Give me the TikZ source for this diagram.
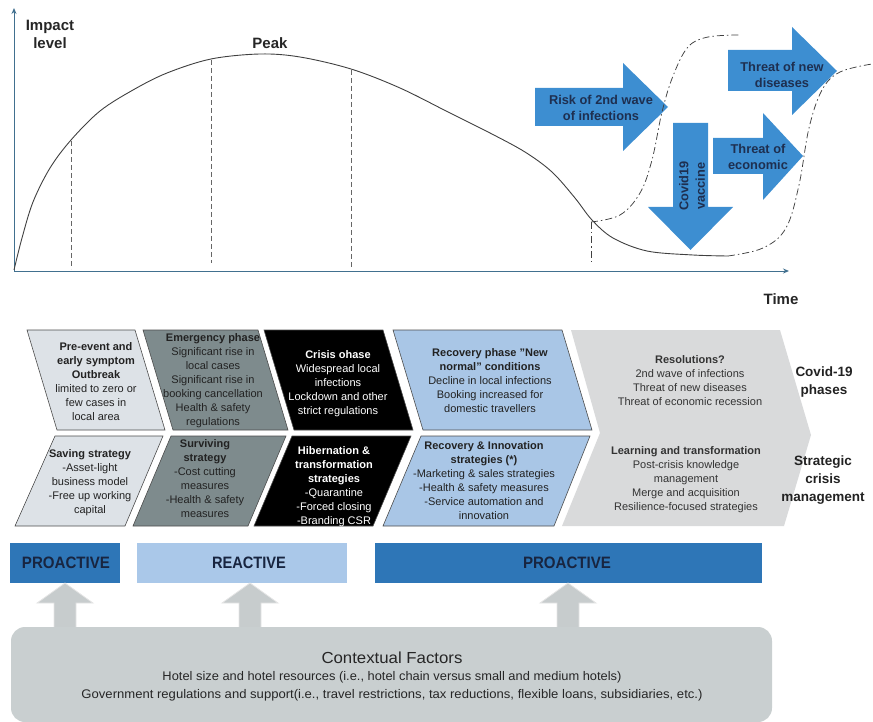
\documentclass[tikz,border=0pt]{standalone}
\usepackage{fontspec}
\setmainfont{Liberation Sans}
\usepackage{graphicx}
\usetikzlibrary{arrows.meta}
\newcommand{\fitw}[2]{\resizebox{#1}{\height}{#2}}
\definecolor{axisc}{HTML}{41708F}
\definecolor{cOne}{HTML}{DDE2E7}
\definecolor{cTwo}{HTML}{7E8B8D}
\definecolor{cFour}{HTML}{A9C6E6}
\definecolor{cFive}{HTML}{D9DADB}
\definecolor{bandDark}{HTML}{2E76B7}
\definecolor{bandLight}{HTML}{AAC8E9}
\definecolor{arrBlue}{HTML}{3D8ED1}
\definecolor{navy}{HTML}{1E2F50}
\definecolor{ctxFill}{HTML}{C9CFD0}
\definecolor{upFill}{HTML}{C7CCCD}
\definecolor{txtDark}{HTML}{222222}
\begin{document}
\begin{tikzpicture}[x=1pt,y=-1pt,
  boxtxt/.style={align=center,inner sep=0pt,text=txtDark,font=\fontsize{11}{14}\selectfont},
  sidetxt/.style={align=center,inner sep=0pt,text=txtDark,font=\bfseries\fontsize{13.5}{18}\selectfont},
  bigtxt/.style={align=center,inner sep=0pt,text=black!85,font=\bfseries\fontsize{15}{18}\selectfont},
  arrtxt/.style={align=center,inner sep=0pt,text=navy,font=\bfseries\fontsize{12.8}{16.5}\selectfont},
  blockarrow/.style={fill=arrBlue,draw=none},
  chev/.style={draw=black!70,line width=0.6pt},
  bandtxt/.style={inner sep=0pt,text=navy!80!black,font=\bfseries\fontsize{16.5}{20}\selectfont},
  uparrow/.style={fill=upFill,draw=white!80!gray,line width=0.8pt},
  ddash/.style={draw=black!60,dashed,dash pattern=on 5pt off 3pt,line width=0.7pt},
  dashdot/.style={draw=black!75,line width=0.75pt,dash pattern=on 7pt off 3pt on 1.5pt off 3pt}
]
\useasboundingbox (0,0) rectangle (873,722);

% ---------------- top chart ----------------
\coordinate (origin) at (14,271);
\coordinate (ytop) at (14,8);
\coordinate (xend) at (789,271);
\draw[axisc,line width=1pt,-{Stealth[length=6pt,width=5pt]}] (origin) -- (ytop);
\draw[axisc,line width=1pt,-{Stealth[length=6pt,width=5pt]}] (origin) -- (xend);

\node[bigtxt] (impact) at (50,34) {Impact\\level};
\node[bigtxt] (peak) at (270,43) {Peak};
\node[bigtxt] (time) at (781,299) {Time};

% blue block arrows
\path[blockarrow] (535,88) -- (623,88) -- (623,63) -- (668,107) -- (623,151) -- (623,126) -- (535,126) -- cycle;
\node[arrtxt] (risk) at (601,108) {Risk of 2nd wave\\of infections};
\path[blockarrow] (728,50) -- (792,50) -- (792,27) -- (837,71) -- (792,115) -- (792,91) -- (728,91) -- cycle;
\node[arrtxt] (newdis) at (782,75) {Threat of new\\diseases};
\path[blockarrow] (713,138) -- (763,138) -- (763,113) -- (803,156) -- (763,200) -- (763,174) -- (713,174) -- cycle;
\node[arrtxt] (econ) at (758,157) {Threat of\\economic};
\path[blockarrow] (673,123) -- (708,123) -- (708,207) -- (733,207) -- (690.5,250) -- (648,207) -- (673,207) -- cycle;
\node[arrtxt,rotate=90] (vacc) at (692,186) {Covid19\\vaccine};

% main impact curve
\draw[black!75,line width=0.9pt] plot[smooth,tension=0.55] coordinates {
 (14,270) (22,238) (33,202) (50,168) (71,140) (100,111) (133,90) (167,73) (211,59) (260,54)
 (300,57) (351,69) (400,88) (450,113) (490,133) (525,152) (552,172) (575,198) (592,220)
 (613,238) (647,251) (693,255) (728,256)};

% dashed phase separators
\coordinate (d1t) at (71,141); \coordinate (d1b) at (71,269);
\coordinate (d2t) at (211,60); \coordinate (d2b) at (211,263);
\coordinate (d3t) at (351,70); \coordinate (d3b) at (351,268);
\draw[ddash] (d1t) -- (d1b);
\draw[ddash] (d2t) -- (d2b);
\draw[ddash] (d3t) -- (d3b);

% dash-dot branches
\coordinate (br) at (591,222);
\coordinate (brb) at (591,263);
\draw[dashdot] (br) -- (brb);
\draw[dashdot] plot[smooth,tension=0.6] coordinates {
 (591,222) (620,215) (640,193) (652,160) (662,112) (673,76) (688,47) (708,37) (740,35)};
\draw[dashdot] plot[smooth,tension=0.6] coordinates {
 (728,256) (763,248) (786,228) (799,185) (809,128) (822,90) (840,72) (872,64)};

% ---------------- chevron rows ----------------
% row 1 (phases)
\path[chev,fill=cOne] (27,330) -- (135,330) -- (165,430) -- (57,430) -- cycle;
\path[chev,fill=cTwo] (143,330) -- (258,330) -- (288,430) -- (173,430) -- cycle;
\path[chev,fill=black] (264,330) -- (383,330) -- (413,430) -- (294,430) -- cycle;
\path[chev,fill=cFour] (393,330) -- (562,330) -- (592,430) -- (423,430) -- cycle;
% row 2 (strategies)
\path[chev,fill=cOne] (55,436) -- (163,436) -- (125,526) -- (15,526) -- cycle;
\path[chev,fill=cTwo] (171,436) -- (286,436) -- (248,526) -- (133,526) -- cycle;
\path[chev,fill=black] (292,436) -- (411,436) -- (373,526) -- (254,526) -- cycle;
\path[chev,fill=cFour] (421,436) -- (590,436) -- (554,526) -- (383,526) -- cycle;
% final grey chevron
\path[fill=cFive] (571,330) -- (780,330) -- (811,435) -- (784,526) -- (562,526) -- (600,433) -- cycle;

% row 1 texts
\node[boxtxt] (p1) at (96,382) {\textbf{Pre-event and}\\\textbf{early symptom}\\\textbf{Outbreak}\\limited to zero or\\few cases in\\local area};
\node[boxtxt] (p2) at (213,381) {\textbf{Emergency phase}\\Significant rise in\\local cases\\Significant rise in\\booking cancellation\\Health \& safety\\regulations};
\node[boxtxt,text=white] (p3) at (338,384) {\textbf{Crisis ohase}\\Widespread local\\infections\\Lockdown and other\\strict regulations};
\node[boxtxt] (p4) at (490,381) {\textbf{Recovery phase "New}\\\textbf{normal" conditions}\\Decline in local infections\\Booking increased for\\domestic travellers};
\node[boxtxt,text=black!80] (p5) at (690,381) {\textbf{Resolutions?}\\2nd wave of infections\\Threat of new diseases\\Threat of economic recession};

% row 2 texts
\node[boxtxt] (s1) at (90,483) {\textbf{Saving strategy}\\-Asset-light\\business model\\-Free up working\\capital};
\node[boxtxt] (s2) at (205,479) {\textbf{Surviving}\\\textbf{strategy}\\-Cost cutting\\measures\\-Health \& safety\\measures};
\node[boxtxt,text=white] (s3) at (334,487) {\textbf{Hibernation \&}\\\textbf{transformation}\\\textbf{strategies}\\-Quarantine\\-Forced closing\\-Branding CSR};
\node[boxtxt] (s4) at (484,481) {\textbf{Recovery \& Innovation}\\\textbf{strategies (*)}\\-Marketing \& sales strategies\\-Health \& safety measures\\-Service automation and\\innovation};
\node[boxtxt,text=black!80] (s5) at (686,480) {\textbf{Learning and transformation}\\Post-crisis knowledge\\management\\Merge and acquisition\\Resilience-focused strategies};

% side labels
\node[sidetxt] (phases) at (824,382) {Covid-19\\phases};
\node[sidetxt] (scm) at (823,480) {Strategic\\crisis\\management};

% ---------------- bands ----------------
\path[fill=bandDark] (10,543) rectangle (120,583);
\path[fill=bandLight] (137,543) rectangle (347,583);
\path[fill=bandDark] (375,543) rectangle (762,583);
\node[bandtxt] (pro1) at (66,563) {\fitw{88pt}{PROACTIVE}};
\node[bandtxt] (rea) at (249,563) {\fitw{74pt}{REACTIVE}};
\node[bandtxt] (pro2) at (567,563) {\fitw{88pt}{PROACTIVE}};

% up arrows
\path[uparrow] (54,634) -- (54,603) -- (37,603) -- (65,583) -- (93,603) -- (76,603) -- (76,634) -- cycle;
\path[uparrow] (239,634) -- (239,603) -- (222,603) -- (250,583) -- (278,603) -- (261,603) -- (261,634) -- cycle;
\path[uparrow] (557,634) -- (557,603) -- (540,603) -- (568,583) -- (596,603) -- (579,603) -- (579,634) -- cycle;

% contextual factors box
\path[fill=ctxFill,rounded corners=14pt] (11,627) rectangle (772,722);
\node[inner sep=0pt,text=black!85,font=\fontsize{16}{19}\selectfont] (ctx) at (392,658) {\fitw{141pt}{Contextual Factors}};
\node[inner sep=0pt,text=black!85,font=\fontsize{12.5}{15}\selectfont] (ctx1) at (392,677) {\fitw{459pt}{Hotel size and hotel resources (i.e., hotel chain versus small and medium hotels)}};
\node[inner sep=0pt,text=black!85,font=\fontsize{12.5}{15}\selectfont] (ctx2) at (392,695) {\fitw{621pt}{Government regulations and support(i.e., travel restrictions, tax reductions, flexible loans, subsidiaries, etc.)}};
\end{tikzpicture}
\end{document}
